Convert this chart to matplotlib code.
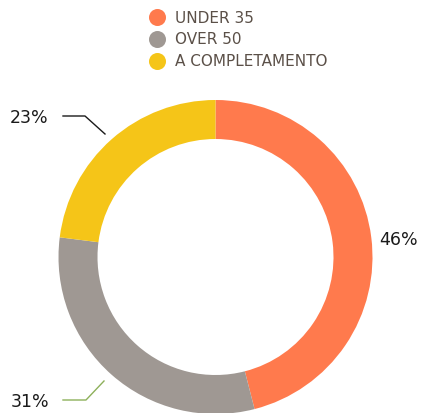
import matplotlib
matplotlib.use('Agg')
import matplotlib.pyplot as plt

labels = ['UNDER 35', 'OVER 50', 'A COMPLETAMENTO']
values = [46, 31, 23]
colors = ['#ff7a4d', '#9f9893', '#f5c518']
leader_colors = [None, '#8db05a', '#1a1a1a']

W, H = 422, 414
fig = plt.figure(figsize=(W / 100, H / 100), dpi=100)
ax = fig.add_axes([0, 0, 1, 1])

cx, cy, r = 215.5, H - 258, 157
wedges, _ = ax.pie(values, colors=colors, startangle=90, counterclock=False,
                   center=(cx, cy), radius=r, frame=True,
                   wedgeprops=dict(width=39, linewidth=0))
ax.set_xlim(0, W)
ax.set_ylim(0, H)
ax.set_aspect('equal')
ax.axis('off')

# percentage labels
font = 'DejaVu Sans'
ax.text(399, H - 240, f'{values[0]}%', ha='center', va='center', fontsize=12.5,
        color='#1a1a1a', family=font)
ax.text(30, H - 402, f'{values[1]}%', ha='center', va='center', fontsize=12.5,
        color='#1a1a1a', family=font)
ax.text(29, H - 118, f'{values[2]}%', ha='center', va='center', fontsize=12.5,
        color='#1a1a1a', family=font)

# leader lines
ax.plot([63, 86, 104], [H - 401, H - 401, H - 382], color=leader_colors[1], lw=1)
ax.plot([63, 85, 105], [H - 117, H - 117, H - 135], color=leader_colors[2], lw=1)

# legend
for i, (lab, col) in enumerate(zip(labels, colors)):
    y = H - (18 + 22 * i)
    ax.scatter([157], [y], s=150, color=col, linewidths=0)
    ax.text(175, y, lab, ha='left', va='center', fontsize=11,
            color='#5b5048', family=font)

fig.savefig('out.png', dpi=100)
